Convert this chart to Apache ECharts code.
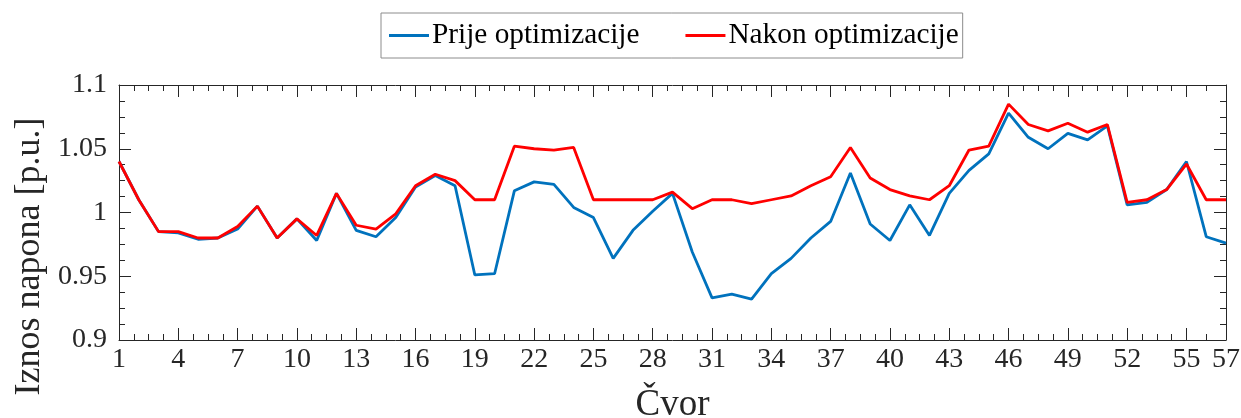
<!DOCTYPE html>
<html>
<head>
<meta charset="utf-8">
<script src="https://cdn.jsdelivr.net/npm/echarts@6/dist/echarts.min.js"></script>
<style>
  html, body { margin: 0; padding: 0; background: #ffffff; }
  #chart { width: 1241px; height: 418px; }
</style>
</head>
<body>
<div id="chart"></div>
<script>
// Bus numbers (čvorovi) of the network
const nodes = [1, 2, 3, 4, 5, 6, 7, 8, 9, 10, 11, 12, 13, 14, 15, 16, 17, 18, 19, 20,
  21, 22, 23, 24, 25, 26, 27, 28, 29, 30, 31, 32, 33, 34, 35, 36, 37, 38, 39, 40,
  41, 42, 43, 44, 45, 46, 47, 48, 49, 50, 51, 52, 53, 54, 55, 56, 57];

// Voltage magnitude before optimization [p.u.]
const prijeOptimizacije = [1.040, 1.010, 0.985, 0.984, 0.979, 0.980, 0.987, 1.005, 0.980, 0.995,
  0.978, 1.015, 0.986, 0.981, 0.996, 1.020, 1.029, 1.021, 0.951, 0.952,
  1.017, 1.024, 1.022, 1.004, 0.996, 0.964, 0.986, 1.001, 1.015, 0.969,
  0.933, 0.936, 0.932, 0.952, 0.964, 0.980, 0.993, 1.031, 0.991, 0.978,
  1.006, 0.982, 1.015, 1.033, 1.046, 1.078, 1.059, 1.050, 1.062, 1.057,
  1.068, 1.006, 1.008, 1.018, 1.040, 0.981, 0.976];

// Voltage magnitude after optimization [p.u.]
const nakonOptimizacije = [1.040, 1.010, 0.985, 0.985, 0.980, 0.980, 0.989, 1.005, 0.980, 0.995,
  0.982, 1.015, 0.990, 0.987, 0.999, 1.021, 1.030, 1.025, 1.010, 1.010,
  1.052, 1.050, 1.049, 1.051, 1.010, 1.010, 1.010, 1.010, 1.016, 1.003,
  1.010, 1.010, 1.007, 1.010, 1.013, 1.021, 1.028, 1.051, 1.027, 1.018,
  1.013, 1.010, 1.021, 1.049, 1.052, 1.085, 1.069, 1.064, 1.070, 1.063,
  1.069, 1.008, 1.010, 1.018, 1.038, 1.010, 1.010];

// Labelled ticks on the bus axis
const xTickLabels = [1, 4, 7, 10, 13, 16, 19, 22, 25, 28, 31, 34, 37, 40, 43, 46, 49, 52, 55, 57];

const seriesNames = ['Prije optimizacije', 'Nakon optimizacije'];

// Minor ticks: four subdivisions per step of 3, two for the last short step
const xMinorTicks = [];
for (let i = 0; i < xTickLabels.length - 1; i++) {
  const a = xTickLabels[i], b = xTickLabels[i + 1];
  const parts = (b - a) === 3 ? 4 : 2;
  for (let k = 1; k < parts; k++) xMinorTicks.push(a + (b - a) * k / parts);
}

const FONT = 'Liberation Serif';
const AXIS_COLOR = '#262626';

function xAxisDef(position, values, len, withLine, withLabel) {
  return {
    type: 'value', position: position, min: 1, max: 57,
    axisLine: { show: withLine, onZero: false, lineStyle: { color: AXIS_COLOR, width: 1 } },
    axisTick: { show: true, inside: true, length: len, customValues: values,
      lineStyle: { color: AXIS_COLOR, width: 1 } },
    axisLabel: withLabel
      ? { show: true, customValues: values, fontFamily: FONT, fontSize: 28, color: AXIS_COLOR, margin: 6 }
      : { show: false },
    splitLine: { show: false }
  };
}

function yAxisDef(position, withLabel) {
  return {
    type: 'value', position: position, min: 0.9, max: 1.1, interval: 0.05,
    axisLine: { show: true, onZero: false, lineStyle: { color: AXIS_COLOR, width: 1 } },
    axisTick: { show: true, inside: true, length: 12, lineStyle: { color: AXIS_COLOR, width: 1 } },
    minorTick: { show: true, splitNumber: 4, length: 6, lineStyle: { color: AXIS_COLOR, width: 1 } },
    axisLabel: withLabel
      ? { show: true, fontFamily: FONT, fontSize: 28, color: AXIS_COLOR, margin: 12 }
      : { show: false },
    splitLine: { show: false },
    minorSplitLine: { show: false }
  };
}

const xBottom = xAxisDef('bottom', xTickLabels, 12, true, true);
xBottom.name = 'Čvor';
xBottom.nameLocation = 'middle';
xBottom.nameGap = 47;
xBottom.nameTextStyle = { fontFamily: FONT, fontSize: 37, color: AXIS_COLOR };

const yLeft = yAxisDef('left', true);
yLeft.name = 'Iznos napona [p.u.]';
yLeft.nameLocation = 'middle';
yLeft.nameGap = 71;
yLeft.nameTextStyle = { fontFamily: FONT, fontSize: 36, color: AXIS_COLOR, padding: [0, 88, 0, 0] };

const chart = echarts.init(document.getElementById('chart'));
chart.setOption({
  animation: false,
  backgroundColor: '#ffffff',
  textStyle: { fontFamily: FONT },
  grid: { left: 119, right: 15, top: 85, bottom: 78, containLabel: false, outerBoundsMode: 'none' },
  legend: {
    data: seriesNames,
    left: 381, top: 13,
    icon: 'rect', itemWidth: 40, itemHeight: 3, itemGap: 46,
    borderColor: '#8c8c8c', borderWidth: 1, borderRadius: 0,
    padding: [8, 4, 8, 8],
    textStyle: { fontFamily: FONT, fontSize: 29.3, color: '#000000', padding: [0, 0, 0, -2] }
  },
  xAxis: [
    xBottom,
    xAxisDef('bottom', xMinorTicks, 6, false, false),
    xAxisDef('top', xTickLabels, 12, true, false),
    xAxisDef('top', xMinorTicks, 6, false, false)
  ],
  yAxis: [yLeft, yAxisDef('right', false)],
  series: [
    {
      name: seriesNames[0], type: 'line', xAxisIndex: 0, yAxisIndex: 0,
      data: nodes.map((n, i) => [n, prijeOptimizacije[i]]),
      showSymbol: false, symbol: 'none',
      color: '#0072BD', lineStyle: { color: '#0072BD', width: 2.8 }
    },
    {
      name: seriesNames[1], type: 'line', xAxisIndex: 0, yAxisIndex: 0,
      data: nodes.map((n, i) => [n, nakonOptimizacije[i]]),
      showSymbol: false, symbol: 'none',
      color: '#FF0000', lineStyle: { color: '#FF0000', width: 2.8 }
    }
  ]
});
</script>
</body>
</html>
